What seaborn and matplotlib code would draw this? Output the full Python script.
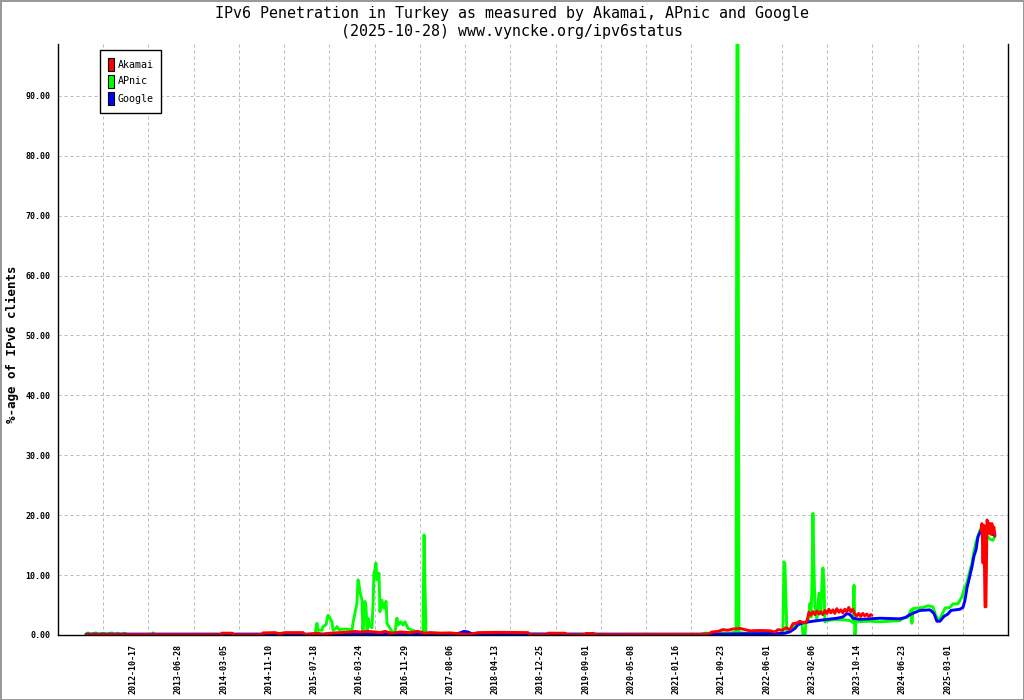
import matplotlib
matplotlib.use('Agg')
import matplotlib.pyplot as plt
import matplotlib.transforms as mtransforms
from matplotlib.patches import Patch
import seaborn as sns
import pandas as pd
import numpy as np

sns.set_style('white')
plt.rcParams['font.family'] = ['DejaVu Sans Mono', 'DejaVu Sans']
plt.rcParams['text.color'] = 'black'
plt.rcParams['xtick.color'] = 'black'
plt.rcParams['ytick.color'] = 'black'
plt.rcParams['axes.labelcolor'] = 'black'

# ---------------- data ----------------
title = "IPv6 Penetration in Turkey as measured by Akamai, APnic and Google\n(2025-10-28) www.vyncke.org/ipv6status"
ylabel = "%-age of IPv6 clients"
series_names = ["Akamai", "APnic", "Google"]
series_colors = ["#ff0000", "#00ff00", "#0000ff"]

# x axis: sample index, one date label every 250 samples
tick_step = 250
axis_end = 5250
tick_labels = ['2012-10-17', '2013-06-28', '2014-03-05', '2014-11-10', '2015-07-18',
               '2016-03-24', '2016-11-29', '2017-08-06', '2018-04-13', '2018-12-25',
               '2019-09-01', '2020-05-08', '2021-01-16', '2021-09-23', '2022-06-01',
               '2023-02-06', '2023-10-14', '2024-06-23', '2025-03-01']
y_max = 98.66
y_ticks = [0, 10, 20, 30, 40, 50, 60, 70, 80, 90]

google_x = [155, 785, 1337, 2194, 2221, 2244, 2266, 2288, 2995, 3658, 3769, 3935, 4017,
            4045, 4073, 4089, 4117, 4172, 4250, 4305, 4338, 4360, 4377, 4393, 4432, 4542,
            4653, 4681, 4703, 4730, 4763, 4819, 4841, 4857, 4874, 4896, 4918, 4935, 4984,
            5001, 5012, 5023, 5034, 5051, 5062, 5073, 5084, 5100, 5112, 5134, 5150, 5172]
google_y = [0.15, 0.15, 0.15, 0.15, 0.35, 0.6, 0.5, 0.2, 0.15, 0.15, 0.2, 0.25, 0.3,
            0.55, 1.1, 1.7, 2.05, 2.3, 2.6, 2.8, 3.0, 3.6, 3.4, 2.8, 2.6, 2.8,
            2.7, 2.9, 3.3, 3.7, 4.1, 4.2, 3.6, 2.3, 2.3, 3.1, 3.5, 4.1, 4.3,
            4.6, 5.8, 7.8, 9.2, 11.4, 13.2, 14.2, 16.4, 17.4, 17.6, 17.2, 17.1, 16.7]

# Akamai: two separate runs of data (gap in between)
akamai_x1 = [155, 901, 906, 962, 973, 1127, 1133, 1199, 1227, 1254, 1354, 1365, 1404, 1437,
             1459, 1503, 1558, 1614, 1641, 1669, 1713, 1752, 1779, 1807, 1846, 1890, 1945,
             1989, 2028, 2056, 2111, 2166, 2221, 2277, 2321, 2442, 2597, 2608, 2702, 2708,
             2802, 2813, 2912, 2918, 2962, 2973, 3592, 3614, 3647, 3675, 3702, 3730, 3769,
             3796, 3824, 3879, 3935, 3962, 3979, 4001, 4023, 4045, 4062, 4084, 4100, 4122,
             4139, 4150, 4161, 4172, 4183, 4194, 4205, 4216, 4227, 4238, 4249, 4260, 4271,
             4282, 4293, 4304, 4315, 4326, 4337, 4348, 4359, 4370, 4381, 4392, 4403, 4414,
             4425, 4436, 4447, 4458, 4469, 4480, 4491, 4498]
akamai_y1 = [0.05, 0.05, 0.3, 0.3, 0.05, 0.05, 0.35, 0.4, 0.2, 0.4, 0.4, 0.05, 0.2, 0.3,
             0.1, 0.3, 0.4, 0.5, 0.6, 0.5, 0.6, 0.5, 0.4, 0.6, 0.3, 0.5, 0.4,
             0.6, 0.3, 0.4, 0.3, 0.35, 0.2, 0.1, 0.4, 0.45, 0.4, 0.05, 0.05, 0.3,
             0.3, 0.05, 0.05, 0.25, 0.25, 0.05, 0.1, 0.5, 0.6, 0.9, 0.8, 1.0, 1.1,
             0.9, 0.7, 0.75, 0.7, 0.5, 0.9, 0.8, 1.2, 0.9, 1.9, 2.0, 2.3, 2.0,
             2.3, 3.8, 3.3, 3.9, 3.4, 4.0, 3.5, 3.9, 3.4, 4.1, 3.6, 4.3, 3.7,
             4.2, 3.6, 4.4, 3.8, 4.2, 3.7, 4.3, 3.9, 4.6, 3.9, 4.3, 3.5, 3.2,
             3.6, 3.1, 3.6, 3.2, 3.5, 3.1, 3.4, 3.3]
akamai_x2 = [5100, 5106, 5112, 5117, 5123, 5128, 5134, 5139, 5145, 5150, 5156, 5161, 5167,
             5172, 5178]
akamai_y2 = [17.5, 18.6, 12.0, 18.3, 4.7, 4.7, 19.2, 18.8, 17.0, 18.6, 16.8, 18.6, 17.2,
             18.0, 16.5]

apnic_x = [155, 166, 177, 210, 221, 254, 265, 298, 309, 332, 343, 370, 381, 519, 525, 536,
           1221, 1227, 1243, 1254, 1420, 1431, 1437, 1459, 1464, 1481, 1492, 1503, 1514,
           1520, 1531, 1542, 1553, 1586, 1614, 1625, 1630, 1641, 1652, 1658, 1663, 1669,
           1680, 1685, 1696, 1702, 1708, 1713, 1724, 1735, 1741, 1746, 1752, 1757, 1763,
           1774, 1779, 1790, 1801, 1813, 1818, 1835, 1846, 1862, 1873, 1879, 1895, 1906,
           1918, 1929, 1934, 1956, 1984, 2011, 2017, 2023, 2028, 2034, 2111, 2194, 2277,
           3548, 3575, 3614, 3658, 3713, 3747, 3752, 3758, 3763, 3796, 3852, 3907, 3935,
           4001, 4006, 4012, 4017, 4023, 4028, 4045, 4062, 4084, 4100, 4111, 4117, 4128,
           4133, 4145, 4156, 4161, 4166, 4172, 4177, 4183, 4194, 4205, 4216, 4222, 4227,
           4233, 4238, 4255, 4294, 4349, 4377, 4393, 4399, 4404, 4410, 4487, 4542, 4598,
           4653, 4669, 4697, 4714, 4719, 4725, 4752, 4780, 4808, 4835, 4852, 4863, 4879,
           4902, 4929, 4946, 4973, 4996, 5007, 5023, 5040, 5051, 5062, 5073, 5084, 5095,
           5112, 5128, 5150, 5167, 5178]
apnic_y = [0.1, 0.35, 0.1, 0.35, 0.1, 0.3, 0.1, 0.35, 0.1, 0.3, 0.1, 0.3, 0.05, 0.05, 0.35, 0.05,
           0.05, 0.3, 0.3, 0.05, 0.05, 1.95, 0.8, 0.8, 1.4, 1.7, 3.3, 2.8, 2.2,
           0.8, 1.0, 1.4, 0.9, 1.0, 0.9, 0.8, 1.95, 3.6, 5.3, 9.2, 8.5, 7.2,
           5.8, 0.55, 5.6, 4.8, 0.8, 2.8, 1.5, 1.2, 5.0, 10.3, 11.0, 12.0, 9.2,
           10.3, 3.9, 5.8, 4.45, 5.6, 1.95, 1.1, 0.55, 0.4, 2.8, 1.67, 2.2, 1.67,
           2.2, 1.5, 1.1, 0.8, 0.55, 0.3, 0.3, 16.7, 8.3, 0.3, 0.3, 0.2, 0.05,
           0.05, 0.3, 0.3, 0.35, 0.3, 0.5, 98.6, 98.6, 0.4, 0.3, 0.3, 0.1, 0.05,
           0.05, 0.4, 12.2, 12.0, 5.8, 0.5, 0.6, 1.1, 2.0, 2.2, 2.0, 0.0, 0.0,
           2.0, 2.3, 5.3, 3.0, 7.5, 20.3, 12.0, 4.7, 2.5, 7.0, 3.5, 8.7, 11.2,
           9.0, 2.2, 2.4, 2.6, 2.5, 2.4, 2.1, 8.3, 0.0, 2.2, 2.3, 2.2, 2.3,
           2.4, 2.8, 3.0, 4.2, 1.95, 4.4, 4.5, 4.6, 4.9, 4.7, 3.2, 2.5, 3.0,
           4.5, 4.6, 5.2, 5.2, 6.4, 7.6, 8.7, 10.8, 12.0, 14.0, 15.5, 16.5, 17.5,
           17.0, 16.8, 16.0, 15.8, 16.6]

df_akamai = pd.concat([
    pd.DataFrame({"x": akamai_x1, "y": akamai_y1, "seg": 1}),
    pd.DataFrame({"x": akamai_x2, "y": akamai_y2, "seg": 2}),
], ignore_index=True)
df_apnic = pd.DataFrame({"x": apnic_x, "y": apnic_y})
df_google = pd.DataFrame({"x": google_x, "y": google_y})

# ---------------- figure ----------------
W, H = 1024, 700
fig = plt.figure(figsize=(W / 100, H / 100), dpi=100)
fig.patch.set_facecolor('white')
fig.patch.set_edgecolor('#999999')
fig.patch.set_linewidth(2)

ax = fig.add_axes([58 / W, (H - 635) / H, 950 / W, 591 / H])
ax.set_facecolor('white')

lw = 2.1
sns.lineplot(data=df_apnic, x="x", y="y", ax=ax, color=series_colors[1], lw=lw,
             estimator=None, sort=False, legend=False)
sns.lineplot(data=df_google, x="x", y="y", ax=ax, color=series_colors[2], lw=lw,
             estimator=None, sort=False, legend=False)
sns.lineplot(data=df_akamai, x="x", y="y", units="seg", ax=ax, color=series_colors[0], lw=lw,
             estimator=None, sort=False, legend=False)

ax.set_xlim(0, axis_end)
ax.set_ylim(0, y_max)
xt = list(range(0, axis_end + 1, tick_step))
ax.set_xticks(xt)
ax.set_xticklabels([''] + tick_labels + [''] * (len(xt) - 1 - len(tick_labels)))
ax.set_yticks(y_ticks)
ax.set_yticklabels([f"{v:.2f}" for v in y_ticks])

ax.grid(True, color='#bbbbbb', linestyle=(0, (3, 3)), linewidth=0.72)
ax.set_axisbelow(True)

ax.tick_params(axis='x', direction='out', length=3.6, width=1, labelsize=6, pad=3,
               labelrotation=90, color='black', labelcolor='black')
ax.tick_params(axis='y', direction='inout', length=7.2, width=1, labelsize=6, pad=2,
               color='black', labelcolor='black')

for lab in ax.get_xticklabels() + ax.get_yticklabels():
    lab.set_fontweight('bold')
    lab.set_color('black')

# the date labels sit a little to the right of their tick marks, as in the original
label_shift = mtransforms.ScaledTranslation(0.30, 0, fig.dpi_scale_trans)
for lab in ax.xaxis.get_majorticklabels():
    lab.set_transform(lab.get_transform() + label_shift)

for s in ['left', 'bottom', 'right']:
    ax.spines[s].set_visible(True)
    ax.spines[s].set_color('black')
    ax.spines[s].set_linewidth(1)
ax.spines['top'].set_visible(False)

ax.set_xlabel('')
ax.set_ylabel('')

handles = [Patch(facecolor=c, edgecolor='black', linewidth=0.8, label=n)
           for n, c in zip(series_names, series_colors)]
leg = ax.legend(handles=handles, loc='upper left', bbox_to_anchor=(42 / 950, (635 - 50) / 591),
                frameon=True, fancybox=False, edgecolor='black', fontsize=7.2,
                handlelength=0.65, handleheight=1.7, handletextpad=0.35, borderpad=0.75,
                labelspacing=0.35, borderaxespad=0, framealpha=1)
leg.get_frame().set_linewidth(1)
for t in leg.get_texts():
    t.set_color('black')

fig.text(0.5, 1 - 6 / H, title, ha='center', va='top', fontsize=10.8, linespacing=1.25,
         color='black')
fig.text(12 / W, 1 - 344 / H, ylabel, rotation=90, ha='center', va='center',
         fontsize=9, fontweight='bold', color='black')

fig.savefig('out.png', dpi=100, facecolor=fig.get_facecolor(), edgecolor=fig.get_edgecolor())
